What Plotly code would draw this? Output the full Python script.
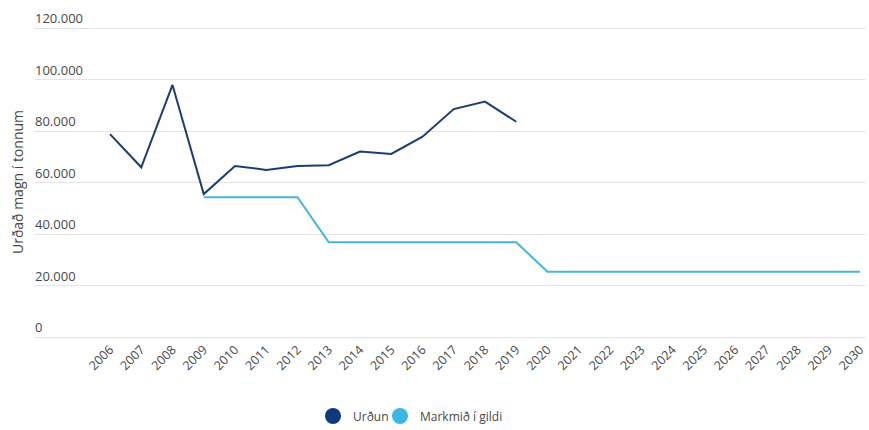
import plotly.graph_objects as go

# Annual landfill amounts (tonnes) and the target levels in force
years_actual = list(range(2006, 2020))
urdun = [78800, 65900, 97900, 55500, 66400, 64900, 66400, 66700,
         72000, 71100, 77800, 88500, 91400, 83600]

years_target = list(range(2009, 2031))
markmid = [54300, 54300, 54300, 54300,
           36800, 36800, 36800, 36800, 36800, 36800, 36800,
           25300, 25300, 25300, 25300, 25300, 25300, 25300, 25300, 25300, 25300, 25300]

tick_years = list(range(2006, 2031))
y_ticks = [0, 20000, 40000, 60000, 80000, 100000, 120000]
y_labels = ["0", "20.000", "40.000", "60.000", "80.000", "100.000", "120.000"]

NAVY = "#1c3d72"
SKY = "#45b3dc"
GREY = "#474747"
FONT = "Open Sans, Noto Sans, sans-serif"

fig = go.Figure()

fig.add_trace(go.Scatter(x=years_actual, y=urdun, mode="lines",
                         line=dict(color=NAVY, width=2), showlegend=False,
                         hoverinfo="x+y"))
fig.add_trace(go.Scatter(x=years_target, y=markmid, mode="lines",
                         line=dict(color=SKY, width=2), showlegend=False,
                         hoverinfo="x+y"))

# legend entries drawn as round markers, one legend box per series
fig.add_trace(go.Scatter(x=[None], y=[None], mode="markers", name="Urðun",
                         marker=dict(color="#0e3a7c", size=18, symbol="circle"),
                         legend="legend"))
fig.add_trace(go.Scatter(x=[None], y=[None], mode="markers", name="Markmið í gildi",
                         marker=dict(color="#3cb6e3", size=18, symbol="circle"),
                         legend="legend2"))

legend_common = dict(orientation="h", yanchor="middle", y=(339 - 416) / 331, xanchor="left",
                     font=dict(size=12, color=GREY), itemsizing="trace",
                     bgcolor="rgba(0,0,0,0)", borderwidth=0)

fig.update_layout(
    width=869, height=430,
    margin=dict(l=35, r=4, t=8, b=91, autoexpand=False),
    paper_bgcolor="white", plot_bgcolor="white",
    font=dict(family=FONT, color=GREY, size=12),
    showlegend=True,
    legend=dict(x=(313 - 35) / 830, **legend_common),
    legend2=dict(x=(380 - 35) / 830, **legend_common),
    xaxis=dict(range=[2003.6, 2030.16], tickmode="array", tickvals=tick_years,
               ticktext=[str(y) for y in tick_years], tickangle=-45,
               showgrid=False, zeroline=False, showline=False,
               tickfont=dict(size=12.5, color=GREY), ticks=""),
    yaxis=dict(range=[-777, 127767], tickmode="array", tickvals=y_ticks, ticktext=y_labels,
               ticklabelposition="inside top", ticklabelstandoff=-3,
               showgrid=True, gridcolor="#e3e3e3",
               gridwidth=1, zeroline=False, showline=False, ticks="",
               tickfont=dict(size=13, color=GREY)),
    annotations=[dict(text="Urðað magn í tonnum", textangle=-90, showarrow=False,
                      xref="paper", yref="paper", x=-0.0217, y=(430 - 91 - 182) / 331,
                      xanchor="center", yanchor="middle",
                      font=dict(size=14, color=GREY))],
)

fig.write_html("out.html")
